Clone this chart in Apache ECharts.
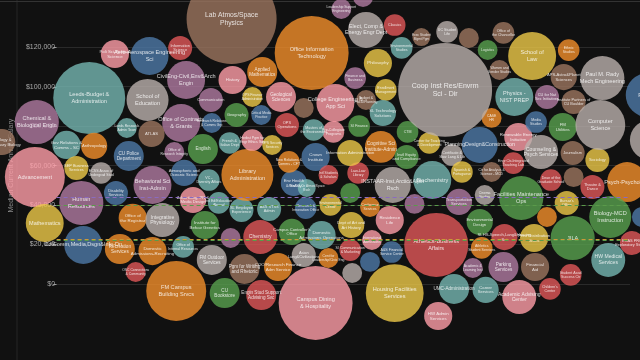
<!DOCTYPE html>
<html><head><meta charset="utf-8">
<script src="https://cdn.jsdelivr.net/npm/echarts@6/dist/echarts.min.js"></script>
<style>html,body{margin:0;padding:0;background:#111;} #c{width:640px;height:360px;}</style>
</head><body><div id="c"></div>
<script>
const names = [
"Lab Atmos/Space\nPhysics","Office Information\nTechnology","Leadership Support\nEngineering","","Elect, Comp &\nEnergy Engr Dept",
"Classics","Environmental\nStudies","Exec Student\nMgmt Pgm","Philosophy","Finance and\nBusiness",
"Enrollment\nManagement","Budget &\nFiscal Planning","College Engineering &\nApp Sci","Geological\nSciences","OPS Finance\nAdministration",
"Applied\nMathematics","History","Communication","","Geography",
"Critical Media\nPractice","SL Technology\nSolutions","Poli Sci-Political\nScience","Aero-Aerospace Engineering\nSci","Information\nScience",
"Leeds-Budget &\nAdministration","School of\nEducation","CivilEng-Civil,Env&Arch\nEngin","Chemical &\nBiological Engin","Office of Contracts\n& Grants",
"Ecology &\nEvolutionary Biology","Gov Relations &\nComms - SC","Anthropology","Leeds Research\nAdmin Team","ATLAS",
"Office of\nResearch Integrity","English","CU Police\nDepartment","SEP Business\nServices","ECSS Assoc of\nUndergrad Stud",
"Advancement","Behavioral Sci\nInst-Admin","Atmospheric and\nOceanic Scienc","VC -\nDiversity Affairs","Disability\nServices",
"Human\nResources","Advertising, PR &\nMedia Design","Intl Ed/Education\nAbroad","Office of\nthe Registrar","Integrative\nPhysiology",
"Institute for\nBehav Genetics","Mathematics","ColComm,Media,Dsgn&Info-Dn","Recreation\nServices","Domestic\nAdmissions-Recruiting",
"Office of\nInternal Resources","OSC Connections\n& Community","FM Campus\nBuilding Srvcs","FM Outdoor\nServices","CU\nBookstore",
"","Chemistry","Pgm for Writing\nand Rhetoric","COO/Research Finance\nAdm Service","Engin Stud Support\nAdvising Svc",
"Campus Dining\n& Hospitality","Asian\nLang&Civilizations","Cent for\nLeadership/Civic Eng","SI Communication\n& Marketing","",
"","A&S Financial\nService Center","International\nAdmissions","Housing Facilities\nServices","Campus Controller's\nOffice",
"Domestic\nAdmissions Operations","Dept of Art and\nArt History","Residence\nLife","Conference\nServices","Environmental\nCenter",
"Research &\nInnovation Office","A&S STSS\nAdmin","SL Employee\nExperience","","Env Health\n& Safety",
"Ren/CO Ctr Atmos/Space\nRsch","Library\nAdministration","New Relations &\nComms - CFT","Crown\nInstitute","Intl Students\n& Scholars",
"Law-Law\nLibrary","Information Administration","Cognitive Sci\nInstitute-Admin","Instl Equity\nand Compliance","CTM",
"SI Finance","Pre-Collegiate\nPrograms","Masters of\nthe Environment","OPS\nOperations","OPS Security\nServices",
"Herbst Pgm for\nEngr Ethics Soc","French &\nItalian Dept","Research Relations\n& Comms Grp","INSTAAR-Inst,Arctic&Alpin\nRsch","Biochemistry",
"Center for Teaching\n& Development","Certificate &\nSbar Lang & Lib","PlanningDesign&Construction","Renewable Energy\nInitiative","Media\nStudies",
"FM\nUtilities","CASE\nHR","Counseling &\nPsych Services","Journalism","Sociology",
"Engr Ctr-Integrated\nTeaching Lab","Spanish &\nPortuguese","Ctr for Analysis &\nScience - MCD","Dean of the\nGraduate School","",
"Theatre &\nDance","Psych-Psychology","Facilities Maintenance\nOps","Cinema\nStudies","Bursar's\nOffice",
"Transportation\nServices","Biology-MCD\nInstruction","Environmental\nDesign","","",
"SLHS-Speech,Lang&Hearing\nSci","Print Distribution\nSrvcs","JILA","ECAS PRC\nExploratory Studies","Athletics-Business\nAffairs",
"Athletics\nStudent Services","Academic &\nLearning Inst","Parking\nServices","Financial\nAid","HW Medical\nServices",
"Student Acad\nSuccess Ctr","Children's\nCenter","UMC-Administration","Career\nServices","Academic Advising\nCenter",
"HW Admin\nServices","Coop Inst Res/Envrm\nSci - Dir","UC Student\nLife","","Office of\nthe Chancellor",
"Logistics","Women and\nGender Studies","School of\nLaw","Ethnic\nStudies","APS-Astro&Planet\nSciences",
"Paul M. Rady\nMech Engineering","Physics -\nNIST PREP","CU for Nat\nSec Initiatives","Institute Partners of\nCU Boulder","Physics",
"Computer\nScience","",""
];
// horizontal layout position (hidden axis)
const xs = [
227,308,338,360,363, 392,399,419,375,352, 383,363,332,277,248, 258,228,206,300,232,
257,380,109,144,175, 83,142,181,30,176, -5,60,88,121,146, 169,198,123,70,95,
28,147,179,204,110, 75,188,214,127,157, 200,38,77,114,147, 178,130,171,207,220,
226,256,240,274,257, 312,300,325,347,349, 367,389,369,392,288, 318,348,387,367,327,
302,265,237,347,290, 303,243,285,312,325, 355,347,378,404,405, 356,330,310,283,268,
248,225,207,390,430, 427,450,478,517,535, 562,490,540,572,597, 512,460,490,550,573,
592,627,520,483,566, 457,610,478,546,642, 503,533,572,632,434, 480,471,502,534,608,
570,549,452,484,518, 436,443,445,467,502, 486,498,531,568,563, 602,513,546,573,648,
600,650,412
];
// median annual salary (USD)
const salaries = [
134400,117100,139400,145500,128800, 131300,119700,125200,112000,104400, 98400,93300,91800,94800,94800, 107500,103400,93300,89200,85700,
85700,86700,116600,115600,119700, 94300,93300,103400,82100,81600, 72000,70500,70000,79100,76100, 66900,68400,64900,58800,56300,
54200,50200,56300,52700,46100, 41100,42600,41100,33500,32400, 29900,30900,19800,17700,16700, 18800,6100,-3500,12200,-4600,
23300,23800,7600,8600,-5600, -9600,14700,13200,17200,5600, 11200,16200,22300,-4600,26400, 24800,29900,32400,39000,40100,
38500,38000,37500,46100,51200, 48700,55300,61900,64400,55300, 56300,66400,69500,64400,77100, 80100,77100,78100,80600,70500,
73000,71500,81600,50200,52700, 71500,65400,70500,74500,82100, 79600,84200,66900,66400,62900, 61300,56800,56800,52700,54200,
49200,51700,43600,45100,41100, 41600,34000,31400,34000,34000, 23800,23300,23300,20800,19800, 18300,8100,8600,8600,12200,
4600,-2500,-2500,-3000,-6600, -16200,98400,127800,124700,127300, 118600,108500,115600,118600,104900, 104400,94800,94800,92300,95800,
80600,73000,40600
];
// employee headcount (bubble area)
const headcounts = [
225,152,11,11,36, 13,13,9,22,13, 13,11,40,25,11, 25,22,16,11,16,
11,19,22,40,16, 144,49,40,54,40, 19,22,19,11,19, 11,25,25,16,13,
100,40,19,13,16, 54,19,13,22,32, 22,40,40,25,22, 13,11,100,25,25,
11,32,25,22,25, 152,16,11,13,11, 11,13,11,93,19, 22,19,22,11,13,
13,16,16,11,19, 9,75,13,22,11, 13,19,28,16,13, 13,13,13,16,11,
13,13,11,36,40, 13,13,36,22,13, 22,11,32,16,16, 13,13,11,13,11,
16,44,54,11,16, 19,49,19,11,11, 19,22,54,16,114, 13,11,25,22,32,
13,13,25,19,32, 22,245,13,11,13, 11,11,64,13,19, 54,40,16,16,54,
69,44,11
];
// division group (colour)
const groups = [
8,1,6,6,9, 2,3,8,5,6, 5,8,7,7,5, 1,7,6,8,4,
0,3,7,0,2, 3,9,6,6,6, 8,3,1,3,8, 6,4,0,5,9,
7,6,0,3,0, 6,7,3,1,9, 4,5,0,1,1, 3,2,1,9,4,
6,2,8,1,2, 7,9,1,2,9, 0,0,7,5,4, 3,5,7,1,5,
0,3,3,4,0, 3,1,1,0,2, 2,5,1,4,4, 4,7,3,2,5,
7,3,0,9,3, 5,9,0,7,0, 4,1,9,8,5, 2,5,8,2,8,
2,1,4,9,5, 6,4,4,1,0, 2,5,4,2,2, 1,6,6,8,3,
2,2,3,3,7, 7,9,9,8,8, 4,8,5,1,8, 9,3,6,8,0,
9,9,6
];
const yTicks = [0, 20000, 40000, 60000, 80000, 100000, 120000];
const refLines = [
  {value: 44100, color: '#8a6bc0'},
  {value: 40000, color: '#5a9a4a'},
  {value: 22800, color: '#c99a3a'},
  {value: 22300, color: '#5a9a4a'}
];
const palette = ['#4e79a7','#f28e2b','#e15759','#76b7b2','#59a14f','#edc948','#b07aa1','#ff9da7','#9c755f','#bab0ac'];

function radius(h){ return 3 * Math.sqrt(h); }
function fontFor(r){ return r > 40 ? r * 0.15 : Math.min(5.6, 1 + 0.24 * r); }

const data = names.map((n, i) => {
  const r = radius(headcounts[i]);
  const fs = fontFor(r);
  return {
    name: n,
    value: [xs[i], salaries[i], headcounts[i]],
    itemStyle: { color: palette[groups[i]] },
    label: { fontSize: fs, lineHeight: fs * 1.15 }
  };
});

const chart = echarts.init(document.getElementById('c'), null, {renderer: 'canvas'});
chart.setOption({
  backgroundColor: '#111111',
  animation: false,
  grid: { left: 50, right: 10, top: 47.3, bottom: 76 },
  xAxis: { type: 'value', min: 50, max: 630, show: false },
  yAxis: {
    type: 'value', min: yTicks[0], max: yTicks[yTicks.length - 1], interval: 20000,
    name: 'Median Current Annual Salary', nameLocation: 'middle', nameGap: 37, nameRotate: 90,
    nameTextStyle: { color: '#8a8a8a', fontSize: 7, fontFamily: 'Liberation Sans' },
    axisLine: { show: false },
    axisTick: { show: true, length: 3.5, lineStyle: { color: '#999' } },
    axisLabel: { color: '#aaa', fontSize: 7, margin: 1.5, fontFamily: 'Liberation Sans',
      formatter: v => '$' + v.toLocaleString('en-US') },
    splitLine: { lineStyle: { color: '#2a2a2a', width: 1 } }
  },
  graphic: [
    { type: 'line', shape: { x1: 17, y1: 0, x2: 17, y2: 360 }, style: { stroke: '#262626', lineWidth: 1 }, z: -1 },
    { type: 'line', shape: { x1: 0, y1: 1.5, x2: 640, y2: 1.5 }, style: { stroke: '#333', lineWidth: 1 }, z: -1 }
  ],
  series: [{
    type: 'scatter',
    clip: false,
    data: data,
    symbol: 'circle',
    symbolSize: v => 2 * radius(v[2]),
    itemStyle: { opacity: 0.8 },
    emphasis: { disabled: true },
    label: {
      show: true, position: 'inside', formatter: '{b}', color: '#ffffff',
      fontFamily: 'Liberation Sans'
    },
    markLine: {
      silent: true, symbol: 'none', animation: false,
      label: { show: false },
      data: refLines.map(l => ({ yAxis: l.value, lineStyle: { color: l.color, type: [4, 3], width: 1 } }))
    }
  }]
});
</script></body></html>
